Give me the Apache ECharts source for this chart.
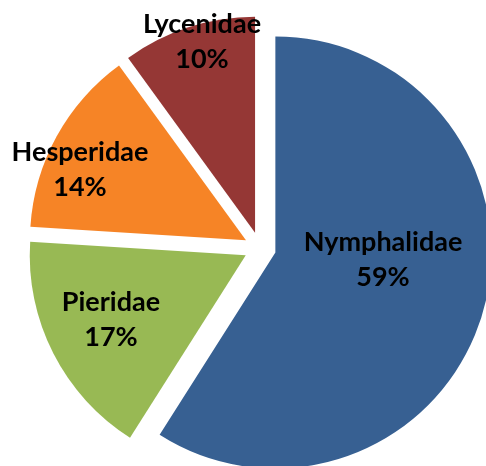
<!DOCTYPE html>
<html>
<head>
<meta charset="utf-8">
<script src="https://cdn.jsdelivr.net/npm/echarts@6/dist/echarts.min.js"></script>
<style>html,body{margin:0;padding:0;background:#fff;}#c{width:486px;height:466px;}</style>
</head>
<body>
<div id="c"></div>
<script>
const categories = ['Nymphalidae', 'Pieridae', 'Hesperidae', 'Lycenidae'];
const values = [59, 17, 14, 10];
const colors = ['#376092', '#98B954', '#F68426', '#953735'];
// label text block centers, px
const labelPos = [[383, 260], [111, 320], [80, 170], [202, 42]];

const CX = 260, CY = 248, R = 216, OFF = 16;

const sliceData = categories.map((name, i) => ({
  name: name,
  value: values[i],
  selected: true,
  itemStyle: {color: colors[i]},
  select: {itemStyle: {color: colors[i]}}
}));
const labelData = categories.map((name, i) => ({name: name, value: values[i]}));

const chart = echarts.init(document.getElementById('c'), null, {renderer: 'canvas'});
chart.setOption({
  animation: false,
  series: [{
    type: 'pie',
    center: [CX, CY],
    radius: R,
    startAngle: 90,
    clockwise: true,
    selectedMode: 'multiple',
    selectedOffset: OFF,
    data: sliceData,
    itemStyle: {borderWidth: 0},
    label: {show: false},
    labelLine: {show: false},
    emphasis: {disabled: true}
  }, {
    type: 'pie',
    center: [CX, CY],
    radius: R,
    startAngle: 90,
    clockwise: true,
    silent: true,
    z: 3,
    data: labelData,
    itemStyle: {color: 'rgba(0,0,0,0)', borderWidth: 0},
    avoidLabelOverlap: false,
    label: {
      show: true,
      position: 'inside',
      formatter: '{b}\n{d}%',
      color: '#000',
      fontFamily: 'Lato',
      fontWeight: 'bold',
      fontSize: 27,
      lineHeight: 35,
      align: 'center'
    },
    labelLine: {show: false},
    labelLayout: function (params) {
      const p = labelPos[params.dataIndex];
      return {x: p[0], y: p[1], align: 'center', verticalAlign: 'middle'};
    },
    emphasis: {disabled: true}
  }]
});
</script>
</body>
</html>
